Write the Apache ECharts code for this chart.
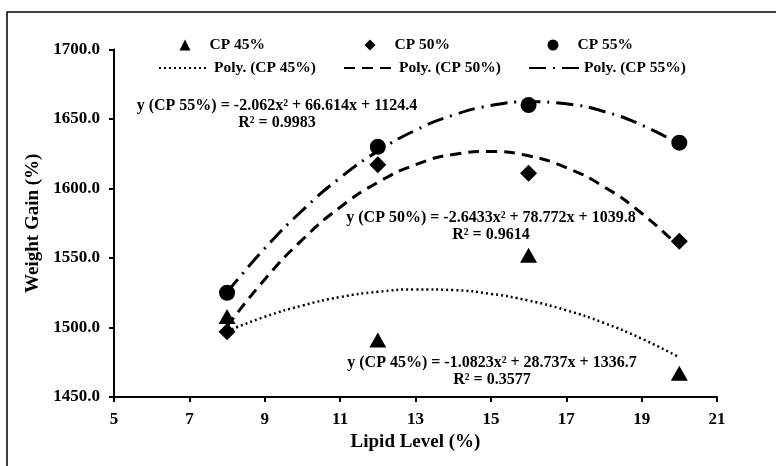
<!DOCTYPE html>
<html>
<head>
<meta charset="utf-8">
<script src="https://cdn.jsdelivr.net/npm/echarts@6/dist/echarts.min.js"></script>
<style>
  html, body { margin: 0; padding: 0; background: #fff; }
  #chart { width: 776px; height: 466px; }
</style>
</head>
<body>
<div id="chart"></div>
<script>
// Measured points (lipid level vs weight gain)
const lipidLevels = [8, 12, 16, 20];
const cp45 = [1508, 1491, 1552, 1467];
const cp50 = [1497, 1617, 1611, 1562];
const cp55 = [1525, 1630, 1660, 1633];

// Trend curves at each whole lipid level
const curveX = [8, 9, 10, 11, 12, 13, 14, 15, 16, 17, 18, 19, 20];
const poly45 = [1497.3, 1507.7, 1515.8, 1521.9, 1525.7, 1527.4, 1526.9, 1524.2, 1519.4, 1512.4, 1503.3, 1492.0, 1478.5];
const poly50 = [1500.8, 1534.6, 1563.2, 1586.5, 1604.4, 1617.1, 1624.5, 1626.6, 1623.5, 1615.0, 1601.3, 1582.2, 1557.9];
const poly55 = [1525.3, 1556.9, 1584.3, 1607.7, 1626.8, 1641.9, 1652.8, 1659.7, 1662.4, 1660.9, 1655.4, 1645.7, 1631.9];

// Equation labels
const eqLabels = [
    ['y (CP 55%) = -2.062x² + 66.614x + 1124.4', 'R² = 0.9983'],
    ['y (CP 50%) = -2.6433x² + 78.772x + 1039.8', 'R² = 0.9614'],
    ['y (CP 45%) = -1.0823x² + 28.737x + 1336.7', 'R² = 0.3577']
];

const font = '"Liberation Serif", "Times New Roman", serif';

document.addEventListener('DOMContentLoaded', () => {
    const chart = echarts.init(document.getElementById('chart'));

    const pairs = (xs, ys) => xs.map((x, i) => [x, ys[i]]);

    const legendText = { fontFamily: font, fontWeight: 'bold', fontSize: 15.5, color: '#000' };

    // marker legends: small symbol, text pushed right to line up with the row below
    function markerLegend(name, center, top) {
        return {
            data: [name],
            left: center - 5.5,
            top: top,
            itemWidth: 11,
            itemHeight: 11,
            textStyle: Object.assign({}, legendText, { padding: [0, 0, 0, 14] })
        };
    }

    // trend line legends: just the dashed line, no dot
    function lineLegend(name, left, top) {
        return {
            data: [name],
            left: left,
            top: top,
            itemWidth: 50,
            itemHeight: 12,
            itemStyle: { color: 'rgba(0,0,0,0)', opacity: 0, borderWidth: 0 },
            textStyle: Object.assign({}, legendText, { padding: 0 })
        };
    }

    const eqPos = [[277, 106], [491, 218], [492, 363]];
    const texts = [];
    eqLabels.forEach((pair, i) => {
        pair.forEach((t, j) => {
            texts.push({
                type: 'text',
                x: eqPos[i][0],
                y: eqPos[i][1] + j * 17,
                style: {
                    text: t,
                    font: 'bold 16px ' + font,
                    fill: '#000',
                    textAlign: 'center',
                    textVerticalAlign: 'middle'
                }
            });
        });
    });

    const scatterBase = {
        type: 'scatter',
        itemStyle: { color: '#000', opacity: 1 },
        z: 5
    };
    const lineBase = {
        type: 'line',
        smooth: true,
        symbol: 'none',
        itemStyle: { color: '#000' },
        z: 3
    };

    const option = {
        animation: false,
        backgroundColor: '#fff',
        legend: [
            markerLegend('CP 45%', 180, 32),
            markerLegend('CP 50%', 365, 32),
            markerLegend('CP 55%', 548, 32),
            lineLegend('Poly. (CP 45%)', 153, 55),
            lineLegend('Poly. (CP 50%)', 338, 55),
            lineLegend('Poly. (CP 55%)', 523, 55)
        ],
        grid: { left: 114, right: 59, top: 49.5, bottom: 69 },
        xAxis: {
            type: 'value',
            min: 5,
            max: 21,
            interval: 2,
            name: 'Lipid Level (%)',
            nameLocation: 'middle',
            nameGap: 34,
            nameTextStyle: { fontFamily: font, fontWeight: 'bold', fontSize: 19, color: '#000' },
            axisLine: { lineStyle: { color: '#000', width: 2 } },
            axisTick: { length: 5, lineStyle: { color: '#000', width: 2 } },
            axisLabel: { fontFamily: font, fontWeight: 'bold', fontSize: 17, color: '#000', margin: 14 },
            splitLine: { show: false }
        },
        yAxis: {
            type: 'value',
            min: 1450,
            max: 1700,
            interval: 50,
            name: 'Weight Gain (%)',
            nameLocation: 'middle',
            nameGap: 70,
            nameTextStyle: { fontFamily: font, fontWeight: 'bold', fontSize: 19, color: '#000' },
            axisLine: { show: true, lineStyle: { color: '#000', width: 2 } },
            axisTick: { show: true, length: 5, lineStyle: { color: '#000', width: 2 } },
            axisLabel: {
                fontFamily: font, fontWeight: 'bold', fontSize: 17, color: '#000', margin: 14,
                formatter: v => v.toFixed(1)
            },
            splitLine: { show: false }
        },
        graphic: [
            {
                type: 'rect',
                shape: { x: 7, y: 12, width: 820, height: 520 },
                style: { fill: null, stroke: '#000', lineWidth: 1.5 },
                silent: true
            }
        ].concat(texts),
        series: [
            Object.assign({}, scatterBase, { name: 'CP 45%', symbol: 'triangle', symbolSize: [17, 15], data: pairs(lipidLevels, cp45) }),
            Object.assign({}, scatterBase, { name: 'CP 50%', symbol: 'diamond', symbolSize: 17, data: pairs(lipidLevels, cp50) }),
            Object.assign({}, scatterBase, { name: 'CP 55%', symbol: 'circle', symbolSize: 16, data: pairs(lipidLevels, cp55) }),
            Object.assign({}, lineBase, {
                name: 'Poly. (CP 45%)',
                data: pairs(curveX, poly45),
                lineStyle: { color: '#000', width: 2.5, type: [2, 3] }
            }),
            Object.assign({}, lineBase, {
                name: 'Poly. (CP 50%)',
                data: pairs(curveX, poly50),
                lineStyle: { color: '#000', width: 3, type: [11, 7] }
            }),
            Object.assign({}, lineBase, {
                name: 'Poly. (CP 55%)',
                data: pairs(curveX, poly55),
                lineStyle: { color: '#000', width: 3, type: [17, 7, 2, 7] }
            })
        ]
    };

    chart.setOption(option);

    window.addEventListener('resize', () => {
        chart.resize();
    });
});
</script>
</body>
</html>
